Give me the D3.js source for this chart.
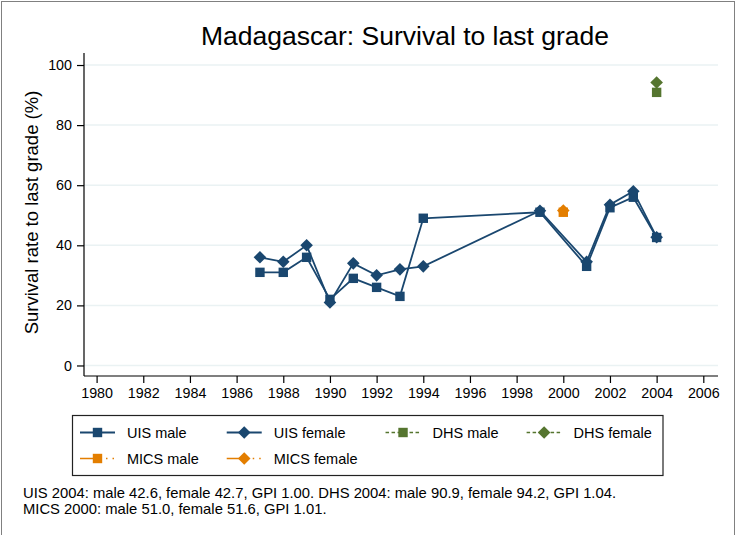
<!DOCTYPE html>
<html lang="en">
<head>
  <meta charset="UTF-8" />
  <title>Madagascar: Survival to last grade</title>
  <style>
    html, body { margin: 0; padding: 0; background: #fff; }
    svg { display: block; font-family: "Liberation Sans", Arial, sans-serif; }
    .axis path, .axis line { stroke: #000; stroke-width: 1.2px; }
    .axis text { font-size: 14.3px; fill: #000; }
    .grid line { stroke: #eaf2f3; stroke-width: 1.5px; }
    .legend text { font-size: 14.5px; fill: #000; dominant-baseline: central; }
    .note { font-size: 14.8px; fill: #000; }
  </style>
</head>
<body>
  <svg width="736" height="535"></svg>
  <script src="https://d3js.org/d3.v7.min.js"></script>
  <script>
    // data
    const uisYears   = [1987, 1988, 1989, 1990, 1991, 1992, 1993, 1994, 1999, 2001, 2002, 2003, 2004];
    const uisMale    = [31, 31, 36, 22, 29, 26, 23, 49, 51, 33, 52.5, 56, 42.6];
    const uisFemale  = [36, 34.5, 40, 21, 34, 30, 32, 33, 51.5, 34.5, 53.5, 58, 42.7];
    const dhsYears   = [2004];
    const dhsMale    = [90.9];
    const dhsFemale  = [94.2];
    const micsYears  = [2000];
    const micsMale   = [51.0];
    const micsFemale = [51.6];

    const xTicks = d3.range(1980, 2007, 2);
    const yTicks = [0, 20, 40, 60, 80, 100];

    const notes = [
      "UIS 2004: male 42.6, female 42.7, GPI 1.00. DHS 2004: male 90.9, female 94.2, GPI 1.04.",
      "MICS 2000: male 51.0, female 51.6, GPI 1.01."
    ];

    const navy = "#1a476f", green = "#55752f", orange = "#e37e00";

    const series = [
      { name: "UIS male",    years: uisYears,  vals: uisMale,    color: navy,   shape: "square",  key: "solid" },
      { name: "UIS female",  years: uisYears,  vals: uisFemale,  color: navy,   shape: "diamond", key: "solid" },
      { name: "DHS male",    years: dhsYears,  vals: dhsMale,    color: green,  shape: "square",  key: "dash" },
      { name: "DHS female",  years: dhsYears,  vals: dhsFemale,  color: green,  shape: "diamond", key: "dash" },
      { name: "MICS male",   years: micsYears, vals: micsMale,   color: orange, shape: "square",  key: "dashdot" },
      { name: "MICS female", years: micsYears, vals: micsFemale, color: orange, shape: "diamond", key: "dashdot" }
    ];

    const svg = d3.select("svg");
    const W = 736, H = 535;

    // outer frame
    svg.append("rect")
      .attr("x", 1.5).attr("y", 1.5)
      .attr("width", W - 3).attr("height", H + 10)
      .attr("fill", "none")
      .attr("stroke", "#808080");

    const pLeft = 84, pRight = 718, pTop = 53, pBottom = 376;

    const x = d3.scaleLinear().domain([1979.46, 2006.63]).range([pLeft, pRight]);
    const y = d3.scaleLinear().domain([-3.5, 104]).range([pBottom, pTop]);

    // grid
    svg.append("g").attr("class", "grid")
      .selectAll("line").data(yTicks).join("line")
      .attr("x1", pLeft).attr("x2", pRight)
      .attr("y1", d => y(d)).attr("y2", d => y(d));

    // axes
    const xAxis = svg.append("g").attr("class", "axis")
      .attr("transform", `translate(0,${pBottom})`)
      .call(d3.axisBottom(x).tickValues(xTicks).tickFormat(d3.format("d")).tickSize(7).tickSizeOuter(0).tickPadding(5));
    xAxis.select(".domain").attr("d", `M${pLeft},0H${pRight}`);

    const yAxis = svg.append("g").attr("class", "axis")
      .attr("transform", `translate(${pLeft},0)`)
      .call(d3.axisLeft(y).tickValues(yTicks).tickSize(7).tickSizeOuter(0).tickPadding(5));
    yAxis.select(".domain").attr("d", `M0,${pTop}V${pBottom}`);

    // titles
    svg.append("text")
      .attr("x", 405).attr("y", 45)
      .attr("text-anchor", "middle")
      .style("font-size", "26.5px")
      .text("Madagascar: Survival to last grade");

    svg.append("text")
      .attr("transform", `translate(38,${(pTop + pBottom) / 2 - 2}) rotate(-90)`)
      .attr("text-anchor", "middle")
      .style("font-size", "18.5px")
      .text("Survival rate to last grade (%)");

    function marker(sel, shape, color) {
      if (shape === "square") {
        sel.append("rect").attr("x", -4.7).attr("y", -4.7).attr("width", 9.4).attr("height", 9.4).attr("fill", color);
      } else {
        sel.append("path").attr("d", "M0,-6.3L6.3,0L0,6.3L-6.3,0Z").attr("fill", color);
      }
    }

    const line = d3.line().x(d => x(d[0])).y(d => y(d[1]));

    series.forEach(s => {
      const pts = s.years.map((yr, i) => [yr, s.vals[i]]);
      if (pts.length > 1) {
        svg.append("path")
          .attr("d", line(pts))
          .attr("fill", "none")
          .attr("stroke", s.color)
          .attr("stroke-width", 1.8);
      }
      svg.append("g").selectAll("g").data(pts).join("g")
        .attr("transform", d => `translate(${x(d[0])},${y(d[1])})`)
        .each(function () { marker(d3.select(this), s.shape, s.color); });
    });

    // legend
    const legend = svg.append("g").attr("class", "legend");
    const legBox = legend.append("rect")
      .attr("x", 72.5).attr("y", 415.5)
      .attr("height", 60)
      .attr("fill", "#fff")
      .attr("stroke", "#222").attr("stroke-width", 1.2);

    const order = [[0, 1, 2, 3], [4, 5]];
    const rowY = [432.5, 458.5];
    const keyW = 35, keyGap = 12, colGap = 28;
    const dashes = { solid: null, dash: "3.5,2.5", dashdot: "17,9,1.5,5,1.5,5" };

    // column widths from the longest label
    const colWidths = [];
    const tmp = legend.append("text");
    for (let c = 0; c < 4; c++) {
      let w = 0;
      order.forEach(r => {
        if (r[c] !== undefined) { tmp.text(series[r[c]].name); w = Math.max(w, tmp.node().getComputedTextLength()); }
      });
      colWidths.push(w);
    }
    tmp.remove();

    let cx = 80;
    const colX = colWidths.map(w => { const v = cx; cx += keyW + keyGap + w + colGap; return v; });

    order.forEach((row, ri) => {
      row.forEach((si, ci) => {
        const s = series[si];
        const g = legend.append("g").attr("transform", `translate(${colX[ci]},${rowY[ri]})`);
        g.append("line")
          .attr("x1", 0).attr("x2", keyW)
          .attr("stroke", s.color).attr("stroke-width", s.key === "solid" ? 1.8 : 1.5)
          .attr("stroke-dasharray", dashes[s.key]);
        const m = g.append("g").attr("transform", `translate(${keyW / 2},0)`);
        marker(m, s.shape, s.color);
        g.append("text").attr("x", keyW + keyGap).attr("y", 0).text(s.name);
      });
    });
    legBox.attr("width", 663 - 72.5);

    // notes
    svg.append("g").selectAll("text").data(notes).join("text")
      .attr("class", "note")
      .attr("x", 23).attr("y", (d, i) => 498 + i * 16)
      .text(d => d);
  </script>
</body>
</html>
